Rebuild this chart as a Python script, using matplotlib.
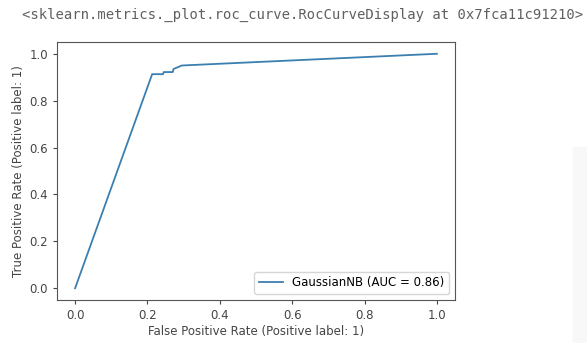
import matplotlib.pyplot as plt
from matplotlib.patches import Rectangle

# ROC curve points
fpr = [0.0, 0.213, 0.243, 0.245, 0.27, 0.272, 0.295, 1.0]
tpr = [0.0, 0.913, 0.913, 0.922, 0.922, 0.935, 0.95, 1.0]
label = "GaussianNB (AUC = 0.86)"
repr_text = "<sklearn.metrics._plot.roc_curve.RocCurveDisplay at 0x7fca11c91210>"


def main():
    fig = plt.figure(figsize=(5.87, 3.43), dpi=100)
    ax = fig.add_axes([0.0971, 0.1254, 0.678, 0.752])

    ax.plot(fpr, tpr, color="#3b7fb0", lw=1.3, label=label)
    ax.set_xlim(-0.05, 1.05)
    ax.set_ylim(-0.05, 1.05)
    ax.set_xticks([0.0, 0.2, 0.4, 0.6, 0.8, 1.0])
    ax.set_yticks([0.0, 0.2, 0.4, 0.6, 0.8, 1.0])
    ax.tick_params(labelsize=8.5, colors="#444444", length=3)
    for s in ax.spines.values():
        s.set_color("#555555")

    ax.set_xlabel("False Positive Rate (Positive label: 1)", fontsize=8.5, color="#444444", labelpad=2)
    ax.set_ylabel("True Positive Rate (Positive label: 1)", fontsize=8.5, color="#444444", labelpad=3)
    ax.legend(loc="lower right", fontsize=8.5, framealpha=0.8)

    # keep the whole repr on the canvas
    fig.text(22 / 587, 1 - 15 / 343, repr_text, family="DejaVu Sans Mono",
             fontsize=10, color="#606060", va="center")

    # faint scrollbar strip at the right edge of the screenshot
    fig.patches.append(Rectangle((573 / 587, 0), 14 / 587, 1 - 147 / 343,
                                 transform=fig.transFigure, color="#f8f8f8", zorder=-1))

    fig.savefig("out.png", dpi=100)


if __name__ == "__main__":
    main()
